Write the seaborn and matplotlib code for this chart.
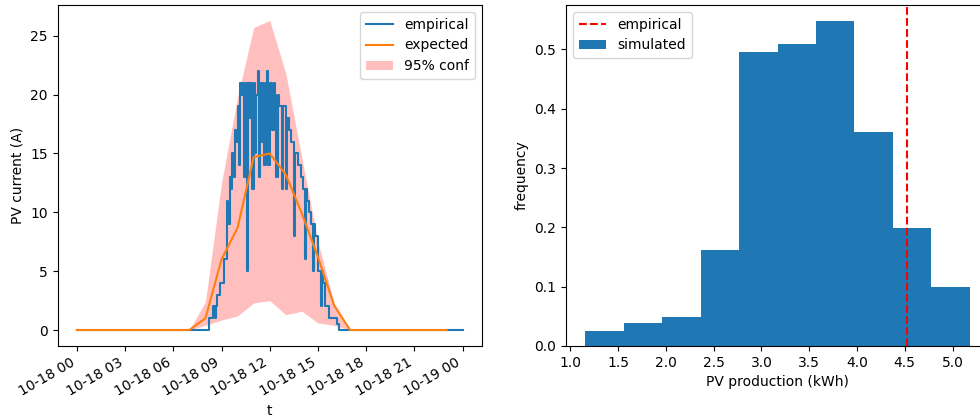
import pandas as pd
import matplotlib
matplotlib.use("Agg")
import matplotlib.pyplot as plt
import matplotlib.dates as mdates
import seaborn as sns

# Measured PV current (A) every 5 minutes, from 08:15 until the panel goes dark
day_current = [
    1, 1, 1, 2, 1, 2, 3, 3, 4, 4, 4, 6,
    6, 11, 9, 13, 12, 15, 13, 17, 16, 19, 14, 21,
    20, 21, 13, 21, 5, 21, 18, 21, 12, 21, 15, 20,
    22, 13, 21, 16, 21, 14, 21, 22, 14, 21, 21, 17,
    21, 20, 13, 20, 19, 19, 12, 19, 19, 12, 18, 17,
    17, 16, 16, 8, 15, 15, 14, 14, 13, 13, 12, 6,
    12, 11, 10, 10, 9, 5, 9, 8, 8, 5, 5, 2,
    5, 4, 2, 2, 2, 1, 1, 1, 1, 1, 1, 0.5, 0.5,
]
day_start_index = 99          # 08:15 on a 5-minute grid
n_samples = 289               # 00:00 .. 24:00 inclusive

# Hourly model output: expected current and 95% confidence band (A)
expected = [0, 0, 0, 0, 0, 0, 0, 0, 1.0, 6.0, 8.7, 14.7,
            15.0, 13.2, 9.9, 6.2, 2.1, 0, 0, 0, 0, 0, 0, 0]
conf_upper = [0, 0, 0, 0, 0, 0, 0, 0, 2.4, 12.5, 19.8, 25.7,
              26.3, 21.8, 14.6, 7.5, 2.3, 0, 0, 0, 0, 0, 0, 0]
conf_lower = [0, 0, 0, 0, 0, 0, 0, 0, 0.4, 0.85, 1.2, 2.3,
              2.5, 1.3, 1.6, 0.6, 0.4, 0, 0, 0, 0, 0, 0, 0]

# Simulated daily PV production histogram (kWh), density-normalised
bin_edges = [1.157, 1.559, 1.962, 2.364, 2.766, 3.169,
             3.571, 3.974, 4.376, 4.778, 5.181]
bin_freq = [0.0253, 0.0377, 0.0489, 0.1625, 0.496,
            0.510, 0.548, 0.360, 0.199, 0.0996]
empirical_production = 4.526

empirical = ([0.0] * day_start_index + [float(v) for v in day_current]
             + [0.0] * (n_samples - day_start_index - len(day_current)))
t_fine = pd.date_range("2023-10-18 00:00", periods=n_samples, freq="5min")
t_hourly = pd.date_range("2023-10-18 00:00", periods=len(expected), freq="h")

fig = plt.figure(figsize=(9.8, 4.19), dpi=100)
ax1 = fig.add_axes([0.0587, 0.1754, 0.4331, 0.8126])
ax2 = fig.add_axes([0.5776, 0.1746, 0.4316, 0.8134])

# Left: current over the day
sns.lineplot(x=t_fine, y=empirical, drawstyle="steps-post", estimator=None,
             color="C0", linewidth=1.5, label="empirical", ax=ax1)
sns.lineplot(x=t_hourly, y=expected, estimator=None,
             color="C1", linewidth=1.5, label="expected", ax=ax1)
ax1.fill_between(t_hourly, conf_lower, conf_upper, color="red", alpha=0.25,
                 linewidth=0, label="95% conf")
ymax = max(conf_upper)
ax1.set_ylim(-0.05 * ymax, 1.05 * ymax)
ax1.xaxis.set_major_locator(mdates.HourLocator(byhour=range(0, 24, 3)))
ax1.xaxis.set_major_formatter(mdates.DateFormatter("%m-%d %H"))
for lab in ax1.get_xticklabels():
    lab.set_rotation(30)
    lab.set_ha("right")
ax1.set_xlabel("t")
ax1.set_ylabel("PV current (A)")
ax1.legend(loc="upper right")

# Right: distribution of simulated production
centers = [(a + b) / 2 for a, b in zip(bin_edges[:-1], bin_edges[1:])]
ax2.axvline(empirical_production, color="red", linestyle="--",
            linewidth=1.5, label="empirical")
sns.histplot(x=centers, weights=bin_freq, bins=bin_edges, stat="count",
             color="#1f77b4", alpha=1.0, linewidth=0, label="simulated", ax=ax2)
ax2.set_xlim(0.956, 5.382)
ax2.set_ylim(0, 0.575)
ax2.set_xlabel("PV production (kWh)")
ax2.set_ylabel("frequency")
ax2.legend(loc="upper left")

fig.savefig("out.png", dpi=100)
